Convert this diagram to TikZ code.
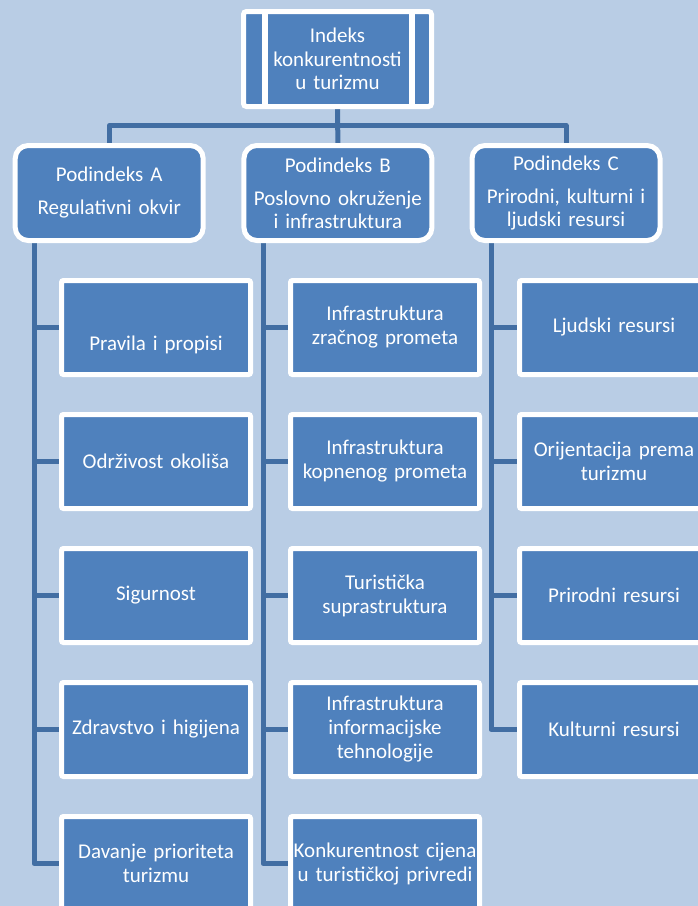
\documentclass[tikz,border=0pt]{standalone}
\usepackage{fontspec}
\setmainfont{Carlito}
\usetikzlibrary{backgrounds}
\definecolor{bgc}{RGB}{185,205,229}
\definecolor{boxc}{RGB}{79,129,189}
\definecolor{linec}{RGB}{66,110,163}
\begin{document}
\begin{tikzpicture}[x=1pt,y=-1pt,
  boxbase/.style={draw=white, line width=5pt, fill=boxc, text=white, inner sep=0pt, align=center},
  child/.style={boxbase, rounded corners=2pt, minimum width=189pt, minimum height=94pt, text width=186pt, font=\fontsize{21}{24}\selectfont},
  sub/.style={boxbase, rounded corners=13pt, minimum width=188pt, minimum height=95pt, text width=185pt, font=\fontsize{21}{22.5}\selectfont},
  topbox/.style={boxbase, rounded corners=3pt, minimum width=188pt, minimum height=95pt, text width=136pt, font=\fontsize{21}{23.5}\selectfont},
  conn/.style={draw=linec, line width=5pt, line join=round},
  panel/.style={draw=white, line width=6pt}
]
\useasboundingbox (0,0) rectangle (698,906);
\clip (0,0) rectangle (698,906);

% top box
\node[topbox] (top) at (337.5,59) {Indeks\\konkurentnosti\\u turizmu};
\draw[panel] ([xshift=23.5pt]top.north west) -- ([xshift=23.5pt]top.south west);
\draw[panel] ([xshift=-22.5pt]top.north east) -- ([xshift=-22.5pt]top.south east);

% second level
\node[sub] (A) at (109.2,193) {Podindeks A\\[10.5pt]Regulativni okvir};
\node[sub] (B) at (337.9,193) {Podindeks B\\[11pt]Poslovno okruženje\\i infrastruktura};
\node[sub] (C) at (566,193) {Podindeks C\\[11pt]Prirodni, kulturni i\\ljudski resursi};

% column A
\node[child] (a1) at (156,327.5) {\raisebox{-23pt}[0pt][0pt]{Pravila i propisi}};
\node[child] (a2) at (156,461.5) {Održivost okoliša};
\node[child] (a3) at (156,595.5) {Sigurnost};
\node[child] (a4) at (156,729.5) {Zdravstvo i higijena};
\node[child] (a5) at (156,863.5) {Davanje prioriteta\\turizmu};

% column B
\node[child] (b1) at (385,327.5) {Infrastruktura\\zračnog prometa};
\node[child] (b2) at (385,461.5) {Infrastruktura\\kopnenog prometa};
\node[child] (b3) at (385,595.5) {Turistička\\suprastruktura};
\node[child] (b4) at (385,729.5) {Infrastruktura\\informacijske\\tehnologije};
\node[child] (b5) at (385,863.5) {Konkurentnost cijena\\u turističkoj privredi};

% column C
\node[child] (c1) at (614,327.5) {Ljudski resursi};
\node[child] (c2) at (614,461.5) {Orijentacija prema\\turizmu};
\node[child] (c3) at (614,595.5) {Prirodni resursi};
\node[child] (c4) at (614,729.5) {Kulturni resursi};

\coordinate (hb) at (0,125.5);
\coordinate (ta) at (34,243);
\coordinate (tb) at (263,243);
\coordinate (tc) at (491,243);

\begin{scope}[on background layer]
\fill[bgc] (0,0) rectangle (698,906);
\draw[conn] (top.south) -- (B.north);
\draw[conn] (top.south) -- (top.south |- hb) -| (A.north);
\draw[conn] (top.south) -- (top.south |- hb) -| (C.north);
\draw[conn] (ta) |- (a5.west);
\foreach \i in {1,...,4} {\draw[conn] (ta |- a\i.west) -- (a\i.west);}
\draw[conn] (tb) |- (b5.west);
\foreach \i in {1,...,4} {\draw[conn] (tb |- b\i.west) -- (b\i.west);}
\draw[conn] (tc) |- (c4.west);
\foreach \i in {1,...,3} {\draw[conn] (tc |- c\i.west) -- (c\i.west);}
\end{scope}
\end{tikzpicture}
\end{document}
